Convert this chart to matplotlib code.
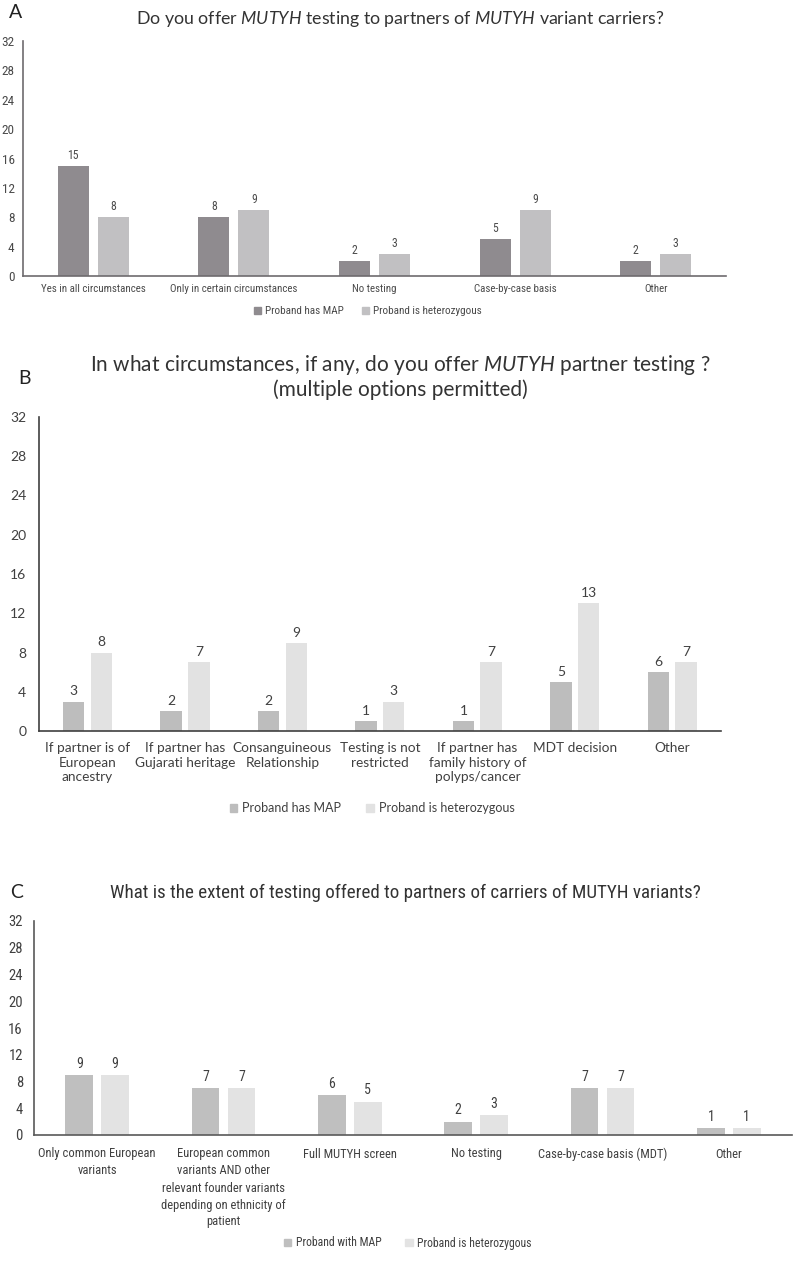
import matplotlib
matplotlib.use("Agg")
import matplotlib.pyplot as plt
from matplotlib import font_manager
from matplotlib.patches import Patch

# ---- data ----
a_categories = ["Yes in all circumstances", "Only in certain circumstances",
                "No testing", "Case-by-case basis", "Other"]
a_map = [15, 8, 2, 5, 2]
a_het = [8, 9, 3, 9, 3]

b_categories = ["If partner is of\nEuropean\nancestry", "If partner has\nGujarati heritage",
                "Consanguineous\nRelationship", "Testing is not\nrestricted",
                "If partner has\nfamily history of\npolyps/cancer", "MDT decision", "Other"]
b_map = [3, 2, 2, 1, 1, 5, 6]
b_het = [8, 7, 9, 3, 7, 13, 7]

c_categories = ["Only common European\nvariants",
                "European common\nvariants AND other\nrelevant founder variants\ndepending on ethnicity of\npatient",
                "Full MUTYH screen", "No testing", "Case-by-case basis (MDT)", "Other"]
c_map = [9, 7, 6, 2, 7, 1]
c_het = [9, 7, 5, 3, 7, 1]

y_ticks = [0, 4, 8, 12, 16, 20, 24, 28, 32]

# ---- fonts ----
_names = {f.name for f in font_manager.fontManager.ttflist}
NARROW = next((n for n in ["Liberation Sans Narrow", "Roboto Condensed", "Lato"] if n in _names), "DejaVu Sans")
WIDE = "Lato" if "Lato" in _names else "DejaVu Sans"
plt.rcParams["font.family"] = [WIDE, "DejaVu Sans"]
plt.rcParams["mathtext.fontset"] = "custom"
plt.rcParams["mathtext.rm"] = WIDE
plt.rcParams["mathtext.it"] = WIDE + ":italic"

W, H = 794, 1280
fig = plt.figure(figsize=(W / 100, H / 100), dpi=100)


def px_axes(left, top, right, bottom):
    return fig.add_axes([left / W, 1 - bottom / H, (right - left) / W, (bottom - top) / H])


def panel(ax, cats, s1, s2, c1, c2, spine_col, txt_col, font, tick_fs, lab_fs, val_fs,
          tick_pad, lab_pad, lspace):
    x = list(range(len(cats)))
    w, off = 0.22, 0.142
    b1 = ax.bar([i - off for i in x], s1, width=w, color=c1)
    b2 = ax.bar([i + off for i in x], s2, width=w, color=c2)
    for b in (b1, b2):
        ax.bar_label(b, padding=3, fontsize=val_fs, color=txt_col, family=font)
    ax.set_xlim(-0.5, len(cats) - 0.5)
    ax.set_ylim(0, 32)
    ax.set_yticks(y_ticks)
    ax.set_xticks(x)
    ax.set_xticklabels(cats, fontsize=lab_fs, color=txt_col, family=font, linespacing=lspace)
    for t in ax.get_yticklabels():
        t.set_fontsize(tick_fs)
        t.set_color(txt_col)
        t.set_family(font)
    ax.tick_params(axis="y", length=0, pad=tick_pad)
    ax.tick_params(axis="x", length=0, pad=lab_pad)
    for s in ("top", "right"):
        ax.spines[s].set_visible(False)
    for s in ("left", "bottom"):
        ax.spines[s].set_color(spine_col)
        ax.spines[s].set_linewidth(1.2)
    ax.set_facecolor("none")


# Panel A
axA = px_axes(23, 41, 726, 276)
panel(axA, a_categories, a_map, a_het, "#8f8b8f", "#c1c0c2", "#6e6b6e", "#4a4a4a", NARROW,
      9.5, 7.8, 8.5, 6, 6, 1.2)
fig.text(9 / W, 1 - 13 / H, "A", fontsize=14, color="#222222", va="center", ha="left")
fig.text(400 / W, 1 - 19 / H,
         r"Do you offer $\mathit{MUTYH}$ testing to partners of $\mathit{MUTYH}$ variant carriers?",
         fontsize=12.8, color="#333333", ha="center", va="center")
fig.legend(handles=[Patch(color="#8f8b8f"), Patch(color="#c1c0c2")],
           labels=["Proband has MAP", "Proband is heterozygous"],
           loc="center", bbox_to_anchor=(368 / W, 1 - 311 / H), ncol=2, frameon=False,
           prop={"family": NARROW, "size": 8}, handlelength=0.6, handleheight=0.6,
           handletextpad=0.4, columnspacing=1.6, labelcolor="#4a4a4a")

# Panel B
axB = px_axes(38.75, 417, 721, 731)
panel(axB, b_categories, b_map, b_het, "#bdbdbd", "#e2e2e2", "#404040", "#404040", WIDE,
      10, 9.8, 10, 9, 8, 1.25)
fig.text(18 / W, 1 - 378 / H, "B", fontsize=14, color="#222222", va="center", ha="left")
fig.text(400 / W, 1 - 365 / H,
         r"In what circumstances, if any, do you offer $\mathit{MUTYH}$ partner testing ?",
         fontsize=15, color="#333333", ha="center", va="center")
fig.text(400 / W, 1 - 390 / H, "(multiple options permitted)",
         fontsize=15, color="#333333", ha="center", va="center")
fig.legend(handles=[Patch(color="#bdbdbd"), Patch(color="#e2e2e2")],
           labels=["Proband has MAP", "Proband is heterozygous"],
           loc="center", bbox_to_anchor=(372 / W, 1 - 808 / H), ncol=2, frameon=False,
           prop={"family": WIDE, "size": 9}, handlelength=0.6, handleheight=0.6,
           handletextpad=0.4, columnspacing=2.0, labelcolor="#404040")

# Panel C
axC = px_axes(34, 921, 792, 1135)
panel(axC, c_categories, c_map, c_het, "#bfbfbf", "#e3e3e3", "#595959", "#404040", NARROW,
      10.5, 9, 10, 8, 9, 1.4)
fig.text(10 / W, 1 - 893 / H, "C", fontsize=14, color="#222222", va="center", ha="left")
fig.text(405 / W, 1 - 893 / H,
         "What is the extent of testing offered to partners of carriers of MUTYH variants?",
         fontsize=13.7, color="#333333", ha="center", va="center", family=NARROW)
fig.legend(handles=[Patch(color="#bfbfbf"), Patch(color="#e3e3e3")],
           labels=["Proband with MAP", "Proband is heterozygous"],
           loc="center", bbox_to_anchor=(408 / W, 1 - 1243 / H), ncol=2, frameon=False,
           prop={"family": NARROW, "size": 8.5}, handlelength=0.6, handleheight=0.6,
           handletextpad=0.4, columnspacing=2.0, labelcolor="#404040")

fig.savefig("out.png", dpi=100, facecolor="white")
